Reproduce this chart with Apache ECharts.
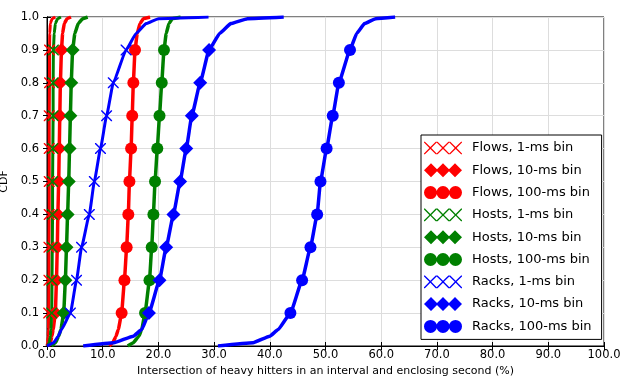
<!DOCTYPE html>
<html><head><meta charset="utf-8">
<script src="https://cdn.jsdelivr.net/npm/echarts@6/dist/echarts.min.js"></script>
<style>html,body{margin:0;padding:0;background:#fff}#c{width:621px;height:377px}</style>
</head><body><div id="c"></div>
<script>
// CDF levels shared by all curves
const cdfLevels = [0, 0.01, 0.03, 0.05, 0.1, 0.2, 0.3, 0.4, 0.5, 0.6, 0.7, 0.8, 0.9, 0.95, 0.98, 0.995, 1.0];
const markerLevels = [0.1, 0.2, 0.3, 0.4, 0.5, 0.6, 0.7, 0.8, 0.9];

const flows1ms   = [0.0, 0.1, 0.2, 0.25, 0.3, 0.35, 0.35, 0.4, 0.4, 0.4, 0.4, 0.45, 0.45, 0.5, 0.6, 0.9, 1.5];
const flows10ms  = [0.3, 0.6, 0.9, 1.1, 1.5, 1.7, 1.85, 1.95, 2.1, 2.2, 2.3, 2.4, 2.6, 2.8, 3.1, 3.6, 4.3];
const flows100ms = [11.2, 11.8, 12.4, 12.8, 13.4, 13.9, 14.3, 14.6, 14.8, 15.1, 15.3, 15.5, 15.8, 16.2, 16.7, 17.3, 18.5];
const hosts1ms   = [0.1, 0.4, 0.6, 0.7, 0.85, 0.9, 0.95, 1.0, 1.0, 1.05, 1.1, 1.1, 1.15, 1.3, 1.5, 1.9, 2.5];
const hosts10ms  = [0.8, 1.5, 2.1, 2.5, 3.0, 3.3, 3.5, 3.7, 3.9, 4.05, 4.2, 4.35, 4.6, 5.0, 5.6, 6.4, 7.3];
const hosts100ms = [14.5, 15.5, 16.5, 17.0, 17.6, 18.4, 18.8, 19.1, 19.4, 19.8, 20.2, 20.6, 21.0, 21.4, 21.9, 22.5, 24.0];
const racks1ms   = [0.0, 1.2, 2.0, 2.6, 4.2, 5.3, 6.2, 7.6, 8.5, 9.6, 10.7, 11.9, 14.2, 16.0, 17.8, 20.0, 29.0];
const racks10ms  = [6.5, 12.0, 15.5, 17.0, 18.3, 20.2, 21.4, 22.7, 23.9, 25.0, 26.0, 27.5, 29.1, 31.0, 33.0, 36.0, 42.5];
const racks100ms = [30.7, 37.0, 40.0, 41.5, 43.7, 45.8, 47.3, 48.5, 49.1, 50.2, 51.3, 52.4, 54.4, 55.6, 57.0, 59.0, 62.5];

const seriesNames = ['Flows, 1-ms bin','Flows, 10-ms bin','Flows, 100-ms bin','Hosts, 1-ms bin','Hosts, 10-ms bin','Hosts, 100-ms bin','Racks, 1-ms bin','Racks, 10-ms bin','Racks, 100-ms bin'];
const seriesValues = [flows1ms, flows10ms, flows100ms, hosts1ms, hosts10ms, hosts100ms, racks1ms, racks10ms, racks100ms];
const xTicks = [0,10,20,30,40,50,60,70,80,90,100];

const RED = '#ff0000', GREEN = '#008000', BLUE = '#0000ff';
const colors = [RED, RED, RED, GREEN, GREEN, GREEN, BLUE, BLUE, BLUE];
const kinds = ['x','d','o','x','d','o','x','d','o'];

function xShape(ox, t) {
  return `M${ox} 0L${ox+t} 0L${ox+6} ${6-t}L${ox+12-t} 0L${ox+12} 0L${ox+12} ${t}L${ox+6+t} 6L${ox+12} ${12-t}L${ox+12} 12L${ox+12-t} 12L${ox+6} ${6+t}L${ox+t} 12L${ox} 12L${ox} ${12-t}L${ox+6-t} 6L${ox} ${t}Z`;
}
const xSymbol = 'path://' + xShape(0, 1.1);
const xLegend = 'path://' + xShape(0, 0.9) + xShape(12, 0.9) + xShape(24, 0.9);
function dia(ox){ return `M${ox} 7L${ox+7} 0L${ox+14} 7L${ox+7} 14Z`; }
const dLegend = 'path://' + dia(0) + dia(12) + dia(24);
function circ(cx){ return `M${cx-6.5} 6.5A6.5 6.5 0 1 0 ${cx+6.5} 6.5A6.5 6.5 0 1 0 ${cx-6.5} 6.5Z`; }
const oLegend = 'path://' + circ(6.5) + circ(19) + circ(31.5);

const symbolFor = {x: xSymbol, d: 'diamond', o: 'circle'};
const sizeFor = {x: 11, d: 14, o: 12};
const legendIcon = {x: xLegend, d: dLegend, o: oLegend};

const series = seriesNames.map((name, i) => ({
  name, type: 'line',
  data: seriesValues[i].map((x, k) => {
    const y = cdfLevels[k];
    const isMarker = markerLevels.some(m => Math.abs(m - y) < 1e-9);
    return isMarker ? {value: [x, y]} : {value: [x, y], symbol: 'none'};
  }),
  symbol: symbolFor[kinds[i]],
  symbolSize: sizeFor[kinds[i]],
  showSymbol: true, showAllSymbol: true,
  smooth: 0.12, smoothMonotone: 'x',
  lineStyle: {color: colors[i], width: kinds[i] === 'x' ? 3 : 3.5},
  itemStyle: {color: colors[i]},
  emphasis: {disabled: true},
  animation: false, z: 2
}));

const FONT = 'DejaVu Sans';
const chart = echarts.init(document.getElementById('c'), null, {renderer: 'canvas'});
chart.setOption({
  animation: false,
  backgroundColor: '#fff',
  textStyle: {fontFamily: FONT},
  grid: {left: 47, right: 17, top: 17, bottom: 31, show: true, borderColor: '#000', borderWidth: 1,
         containLabel: false, outerBoundsMode: 'none'},
  legend: {
    orient: 'vertical', left: 421, top: 135, width: 178,
    backgroundColor: '#fff', borderColor: '#000', borderWidth: 1, borderRadius: 0,
    padding: [6, 10, 6, 3], itemGap: 8.3, itemWidth: 38, itemHeight: 14,
    textStyle: {fontFamily: FONT, fontSize: 13, color: '#000', lineHeight: 14, padding: [0, 0, 0, 5]},
    data: seriesNames.map((n, i) => ({name: n, icon: legendIcon[kinds[i]], itemStyle: {color: colors[i]}})),
    selectedMode: false
  },
  xAxis: [{
    type: 'value', min: 0, max: 100, interval: 10,
    name: 'Intersection of heavy hitters in an interval and enclosing second (%)',
    nameLocation: 'middle', nameGap: 20,
    nameTextStyle: {fontFamily: FONT, fontSize: 11, color: '#000'},
    axisLine: {show: true, onZero: false, lineStyle: {color: '#000'}},
    axisTick: {show: true, inside: true, length: 4, lineStyle: {color: '#000'}},
    axisLabel: {fontFamily: FONT, fontSize: 11.5, color: '#000', margin: 3,
      formatter: v => xTicks.includes(v) ? v.toFixed(1) : ''},
    splitLine: {show: true, lineStyle: {color: '#dddddd', width: 1}}
  }, {
    type: 'value', min: 0, max: 100, interval: 10, position: 'top',
    axisLine: {show: true, lineStyle: {color: '#000'}},
    axisTick: {show: true, inside: true, length: 4, lineStyle: {color: '#000'}},
    axisLabel: {show: false}, splitLine: {show: false}
  }],
  yAxis: [{
    type: 'value', min: 0, max: 1, interval: 0.1,
    name: 'CDF', nameLocation: 'middle', nameGap: 8,
    nameTextStyle: {fontFamily: FONT, fontSize: 11, color: '#000'},
    axisLine: {show: true, onZero: false, lineStyle: {color: '#000'}},
    axisTick: {show: true, inside: true, length: 4, lineStyle: {color: '#000'}},
    axisLabel: {fontFamily: FONT, fontSize: 11.5, color: '#000', margin: 4, padding: [0, 4, 0, 0],
      formatter: v => v.toFixed(1)},
    splitLine: {show: true, lineStyle: {color: '#dddddd', width: 1}}
  }, {
    type: 'value', min: 0, max: 1, interval: 0.1, position: 'right',
    axisLine: {show: true, lineStyle: {color: '#000'}},
    axisTick: {show: true, inside: true, length: 4, lineStyle: {color: '#000'}},
    axisLabel: {show: false}, splitLine: {show: false}
  }],
  series
});
</script></body></html>
